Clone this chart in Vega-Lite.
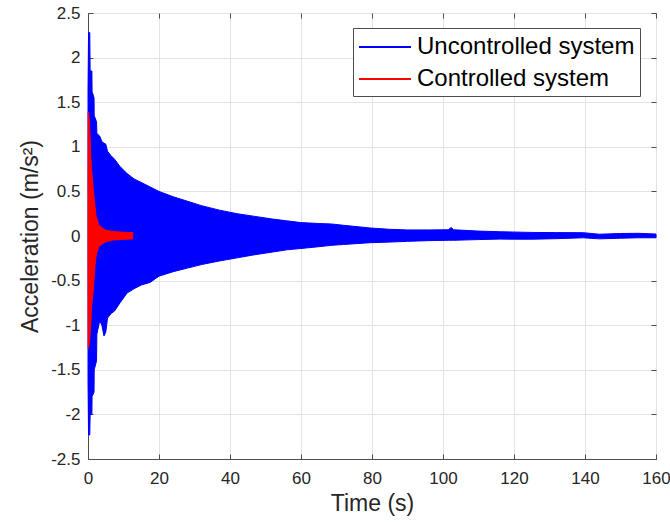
{
  "$schema": "https://vega.github.io/schema/vega-lite/v6.json",
  "width": 568,
  "height": 446,
  "autosize": "none",
  "padding": {"left": 88, "top": 13, "right": 14, "bottom": 63},
  "background": "white",
  "config": {
    "font": "Liberation Sans",
    "view": {"stroke": "#4d4d4d", "strokeWidth": 1},
    "axis": {
      "labelFont": "Liberation Sans",
      "titleFont": "Liberation Sans",
      "labelFontSize": 17,
      "titleFontSize": 23,
      "titleFontWeight": "normal",
      "labelColor": "#262626",
      "titleColor": "#262626",
      "domainColor": "#4d4d4d",
      "tickColor": "#4d4d4d",
      "gridColor": "#e3e3e3",
      "gridWidth": 1,
      "tickSize": -5,
      "labelFlush": false,
      "labelOverlap": false
    }
  },
  "datasets": {
    "env": [
      {"series": "Uncontrolled system", "t": 0, "hi": 1.6, "lo": -1.6},
      {"series": "Uncontrolled system", "t": 0.15, "hi": 2.28, "lo": -2.23},
      {"series": "Uncontrolled system", "t": 0.5, "hi": 2.28, "lo": -2.23},
      {"series": "Uncontrolled system", "t": 0.6, "hi": 1.85, "lo": -2.0},
      {"series": "Uncontrolled system", "t": 1.1, "hi": 1.85, "lo": -2.0},
      {"series": "Uncontrolled system", "t": 1.15, "hi": 1.62, "lo": -1.8},
      {"series": "Uncontrolled system", "t": 1.7, "hi": 1.55, "lo": -1.75},
      {"series": "Uncontrolled system", "t": 1.75, "hi": 1.35, "lo": -1.5},
      {"series": "Uncontrolled system", "t": 2.4, "hi": 1.28, "lo": -1.4},
      {"series": "Uncontrolled system", "t": 2.5, "hi": 1.15, "lo": -1.1},
      {"series": "Uncontrolled system", "t": 3.3, "hi": 1.12, "lo": -0.95},
      {"series": "Uncontrolled system", "t": 3.9, "hi": 1.06, "lo": -1.0},
      {"series": "Uncontrolled system", "t": 4.5, "hi": 1.04, "lo": -1.12},
      {"series": "Uncontrolled system", "t": 5.0, "hi": 1.03, "lo": -1.08},
      {"series": "Uncontrolled system", "t": 5.5, "hi": 0.95, "lo": -0.92},
      {"series": "Uncontrolled system", "t": 6.5, "hi": 0.9, "lo": -0.87},
      {"series": "Uncontrolled system", "t": 7.5, "hi": 0.86, "lo": -0.84},
      {"series": "Uncontrolled system", "t": 9, "hi": 0.78, "lo": -0.75},
      {"series": "Uncontrolled system", "t": 11, "hi": 0.7, "lo": -0.64},
      {"series": "Uncontrolled system", "t": 13, "hi": 0.64, "lo": -0.59},
      {"series": "Uncontrolled system", "t": 15, "hi": 0.6, "lo": -0.55},
      {"series": "Uncontrolled system", "t": 17.5, "hi": 0.55, "lo": -0.52},
      {"series": "Uncontrolled system", "t": 20, "hi": 0.5, "lo": -0.45},
      {"series": "Uncontrolled system", "t": 24, "hi": 0.44, "lo": -0.4},
      {"series": "Uncontrolled system", "t": 28, "hi": 0.39, "lo": -0.36},
      {"series": "Uncontrolled system", "t": 32, "hi": 0.34, "lo": -0.32},
      {"series": "Uncontrolled system", "t": 37, "hi": 0.29, "lo": -0.28},
      {"series": "Uncontrolled system", "t": 42, "hi": 0.25, "lo": -0.245},
      {"series": "Uncontrolled system", "t": 47, "hi": 0.22, "lo": -0.21},
      {"series": "Uncontrolled system", "t": 52, "hi": 0.19, "lo": -0.18},
      {"series": "Uncontrolled system", "t": 56, "hi": 0.17, "lo": -0.155},
      {"series": "Uncontrolled system", "t": 60, "hi": 0.15, "lo": -0.14},
      {"series": "Uncontrolled system", "t": 65, "hi": 0.14, "lo": -0.12},
      {"series": "Uncontrolled system", "t": 68.5, "hi": 0.135, "lo": -0.105},
      {"series": "Uncontrolled system", "t": 72, "hi": 0.12, "lo": -0.095},
      {"series": "Uncontrolled system", "t": 79.5, "hi": 0.09, "lo": -0.075},
      {"series": "Uncontrolled system", "t": 85, "hi": 0.075, "lo": -0.068},
      {"series": "Uncontrolled system", "t": 90, "hi": 0.068, "lo": -0.06},
      {"series": "Uncontrolled system", "t": 96, "hi": 0.068, "lo": -0.052},
      {"series": "Uncontrolled system", "t": 101.5, "hi": 0.07, "lo": -0.048},
      {"series": "Uncontrolled system", "t": 102.3, "hi": 0.095, "lo": -0.048},
      {"series": "Uncontrolled system", "t": 103, "hi": 0.07, "lo": -0.048},
      {"series": "Uncontrolled system", "t": 110, "hi": 0.055, "lo": -0.04},
      {"series": "Uncontrolled system", "t": 116, "hi": 0.048, "lo": -0.035},
      {"series": "Uncontrolled system", "t": 125, "hi": 0.04, "lo": -0.036},
      {"series": "Uncontrolled system", "t": 132, "hi": 0.038, "lo": -0.03},
      {"series": "Uncontrolled system", "t": 139.5, "hi": 0.037, "lo": -0.02},
      {"series": "Uncontrolled system", "t": 144, "hi": 0.02, "lo": -0.032},
      {"series": "Uncontrolled system", "t": 150, "hi": 0.028, "lo": -0.025},
      {"series": "Uncontrolled system", "t": 155, "hi": 0.03, "lo": -0.02},
      {"series": "Uncontrolled system", "t": 160, "hi": 0.022, "lo": -0.02},
      {"series": "Controlled system", "t": 0, "hi": 0, "lo": 0},
      {"series": "Controlled system", "t": 0.05, "hi": 1.39, "lo": -1.26},
      {"series": "Controlled system", "t": 0.4, "hi": 1.3, "lo": -1.2},
      {"series": "Controlled system", "t": 0.8, "hi": 0.89, "lo": -0.98},
      {"series": "Controlled system", "t": 1.0, "hi": 0.75, "lo": -0.8},
      {"series": "Controlled system", "t": 1.5, "hi": 0.52, "lo": -0.6},
      {"series": "Controlled system", "t": 2.0, "hi": 0.32, "lo": -0.32},
      {"series": "Controlled system", "t": 2.3, "hi": 0.22, "lo": -0.22},
      {"series": "Controlled system", "t": 3, "hi": 0.13, "lo": -0.12},
      {"series": "Controlled system", "t": 4, "hi": 0.09, "lo": -0.09},
      {"series": "Controlled system", "t": 5, "hi": 0.065, "lo": -0.065},
      {"series": "Controlled system", "t": 7, "hi": 0.05, "lo": -0.045},
      {"series": "Controlled system", "t": 10, "hi": 0.042, "lo": -0.038},
      {"series": "Controlled system", "t": 12.6, "hi": 0.038, "lo": -0.032}
    ]
  },
  "data": {"name": "env"},
  "encoding": {
    "x": {"field": "t", "type": "quantitative", "scale": {"domain": [0, 160], "nice": false, "zero": false}},
    "y": {"field": "hi", "type": "quantitative", "scale": {"domain": [-2.5, 2.5], "nice": false}},
    "y2": {"field": "lo"},
    "fill": {"field": "series", "type": "nominal", "scale": {"domain": ["Uncontrolled system", "Controlled system"], "range": ["#0000ff", "#ff0000"]}},
    "stroke": {"field": "series", "type": "nominal", "scale": {"domain": ["Uncontrolled system", "Controlled system"], "range": ["#0000ff", "#ff0000"]}}
  },
  "layer": [
    {
      "transform": [{"filter": "datum.series === 'Uncontrolled system'"}],
      "mark": {"type": "area", "strokeWidth": 1, "fillOpacity": 1},
      "encoding": {
        "x": {"field": "t", "type": "quantitative", "axis": {"values": [0, 20, 40, 60, 80, 100, 120, 140, 160], "title": "Time (s)", "titlePadding": 6, "labelPadding": 16, "orient": "bottom"}},
        "y": {"field": "hi", "type": "quantitative", "axis": {"values": [-2.5, -2, -1.5, -1, -0.5, 0, 0.5, 1, 1.5, 2, 2.5], "labelExpr": "toString(datum.value)", "title": "Acceleration (m/s²)", "titlePadding": 8, "labelPadding": 13, "orient": "left"}},
        "fill": {"field": "series", "type": "nominal", "legend": {
          "orient": "none", "legendX": 265, "legendY": 15, "title": null,
          "symbolType": "M-1,0H3", "symbolSize": 676, "symbolStrokeWidth": 2,
          "labelFontSize": 24, "labelColor": "#000000", "labelFont": "Liberation Sans", "labelOffset": 31, "labelLimit": 500,
          "strokeColor": "#4d4d4d", "fillColor": "#ffffff", "padding": 5, "rowPadding": 6
        }},
        "stroke": {"field": "series", "type": "nominal", "legend": {
          "orient": "none", "legendX": 265, "legendY": 15, "title": null,
          "symbolType": "M-1,0H3", "symbolSize": 676, "symbolStrokeWidth": 2,
          "labelFontSize": 24, "labelColor": "#000000", "labelFont": "Liberation Sans", "labelOffset": 31, "labelLimit": 500,
          "strokeColor": "#4d4d4d", "fillColor": "#ffffff", "padding": 5, "rowPadding": 6
        }}
      }
    },
    {
      "transform": [{"filter": "datum.series === 'Controlled system'"}],
      "mark": {"type": "area", "strokeWidth": 1, "fillOpacity": 1},
      "encoding": {
        "x": {"field": "t", "type": "quantitative", "axis": {"values": [0, 20, 40, 60, 80, 100, 120, 140, 160], "orient": "top", "labels": false, "title": null, "grid": false, "domain": false}},
        "y": {"field": "hi", "type": "quantitative", "axis": {"values": [-2.5, -2, -1.5, -1, -0.5, 0, 0.5, 1, 1.5, 2, 2.5], "orient": "right", "labels": false, "title": null, "grid": false, "domain": false}}
      }
    }
  ],
  "resolve": {"axis": {"x": "independent", "y": "independent"}}
}
